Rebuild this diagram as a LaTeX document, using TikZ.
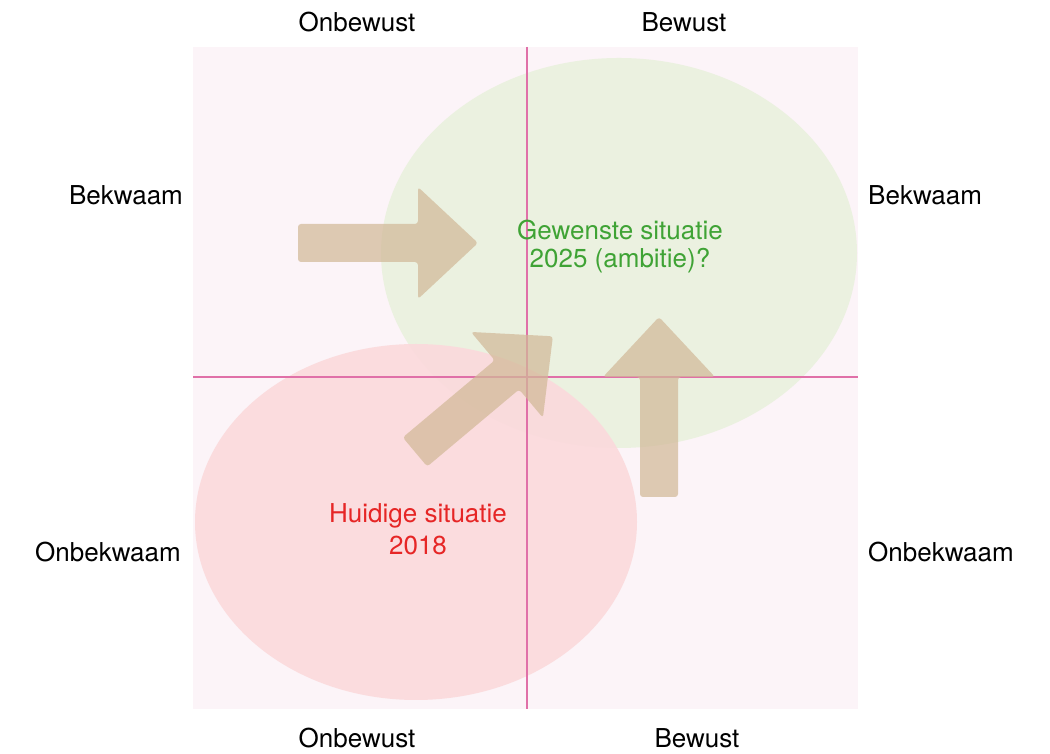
\documentclass[tikz,border=0pt]{standalone}
\usepackage{fontspec}
\setmainfont{TeX Gyre Heros}
\begin{document}
\begin{tikzpicture}[x=1pt,y=1pt,
  lbl/.style={font=\fontsize{26}{31}\selectfont, anchor=base, inner sep=0pt},
  greenlbl/.style={lbl, text=gtext},
  redlbl/.style={lbl, text=rtext},
  axisline/.style={draw=axispink, line width=1.3pt},
  arrowfill/.style={fill=arrowtan, fill opacity=0.72},
  bigarrow/.pic={\fill[arrowfill, rounded corners=3pt] (0,-19)--(120,-19)--(120,-56)--(180,0)--(120,56)--(120,19)--(0,19)--cycle;}
]
\definecolor{bgpink}{HTML}{FCF4F8}
\definecolor{axispink}{HTML}{E070A8}
\definecolor{greenell}{HTML}{EBF1E0}
\definecolor{redell}{HTML}{FBDADC}
\definecolor{arrowtan}{HTML}{D2B998}
\definecolor{gtext}{HTML}{3FA335}
\definecolor{rtext}{HTML}{E62626}
\useasboundingbox (0,0) rectangle (1050,754);
\fill[white] (0,0) rectangle (1050,754);
% background square
\fill[bgpink] (193,45) rectangle (858,707);
% ellipses
\fill[greenell] (619,501) ellipse [x radius=238, y radius=195];
\fill[redell, fill opacity=0.92] (416,232) ellipse [x radius=221, y radius=178];
% axes
\coordinate (vt) at (527,707);
\coordinate (vb) at (527,45);
\coordinate (hl) at (193,377);
\coordinate (hr) at (858,377);
\draw[axisline] (vt) -- (vb);
\draw[axisline] (hl) -- (hr);
% arrows
\pic at (298,511) {bigarrow};
\pic[rotate=40] at (415,302) {bigarrow};
\pic[rotate=90] at (659,257) {bigarrow};
% labels
\node[lbl] (tl) at (357,722) {Onbewust};
\node[lbl] (tr) at (684,722) {Bewust};
\node[lbl] (bl) at (357,6) {Onbewust};
\node[lbl] (br) at (697,6) {Bewust};
\node[lbl] (lb) at (126,549) {Bekwaam};
\node[lbl, anchor=base west] (rb) at (868,549) {Bekwaam};
\node[lbl] (lo) at (108,192) {Onbekwaam};
\begin{scope}
\clip (860,150) rectangle (1015,240);
\node[lbl, anchor=base west] (ro) at (868,192) {Onbekwaam};
\end{scope}
\node[greenlbl] (g1) at (620,514) {Gewenste situatie};
\node[greenlbl] (g2) at (620,486) {2025 (ambitie)?};
\node[redlbl] (r1) at (418,231) {Huidige situatie};
\node[redlbl] (r2) at (418,199) {2018};
\end{tikzpicture}
\end{document}
